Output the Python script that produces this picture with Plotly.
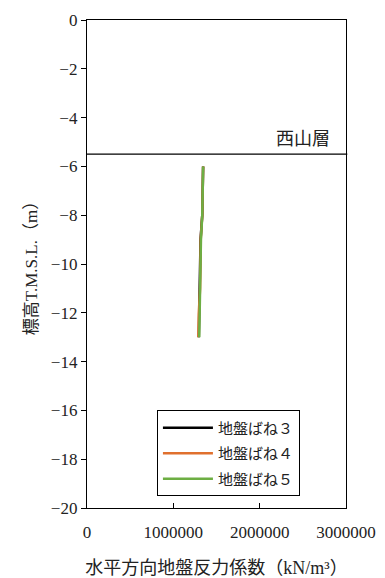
import plotly.graph_objects as go

# ---- data ----
depth = [-6, -7, -8, -9, -10, -11, -12, -13]
k_spring3 = [1345000, 1340000, 1335000, 1315000, 1312000, 1310000, 1300000, 1295000]
k_spring4 = [1345000, 1340000, 1335000, 1317000, 1314000, 1310000, 1295000, 1290000]
k_spring5 = [1345000, 1340000, 1335000, 1320000, 1317000, 1315000, 1305000, 1300000]
series_names = ["地盤ばね３", "地盤ばね４", "地盤ばね５"]
series_colors = ["#000000", "#E0702E", "#6DAE43"]
layer_top = -5.5
layer_name = "西山層"
y_ticks = [0, -2, -4, -6, -8, -10, -12, -14, -16, -18, -20]
x_ticks = [0, 1000000, 2000000, 3000000]

FONT = "Liberation Serif, Noto Sans CJK JP, serif"

fig = go.Figure()
for i, (name, vals, col) in enumerate(zip(series_names, [k_spring3, k_spring4, k_spring5], series_colors)):
    fig.add_trace(go.Scatter(x=vals, y=depth, mode="lines", name=name,
                             legendgroup=f"g{i}",
                             line=dict(color=col, width=2.5)))

fig.add_shape(type="line", xref="paper", yref="y", x0=0, x1=1.005,
              y0=layer_top, y1=layer_top, line=dict(color="black", width=1.3))
fig.add_annotation(text=layer_name, xref="paper", yref="y", x=0.946, y=layer_top,
                   xanchor="right", yanchor="bottom", yshift=3, showarrow=False,
                   font=dict(family=FONT, size=18, color="#222"))

fig.update_layout(
    width=385, height=578,
    margin=dict(l=87, r=39, t=20, b=70, autoexpand=False),
    paper_bgcolor="white", plot_bgcolor="white",
    font=dict(family=FONT, size=17, color="#222"),
    showlegend=True,
    legend=dict(x=0.27, y=0.2, xanchor="left", yanchor="top",
                bgcolor="white", bordercolor="black", borderwidth=1,
                font=dict(family=FONT, size=15, color="#222"),
                itemwidth=50, tracegroupgap=3),
    xaxis=dict(range=[0, 3000000], tickvals=x_ticks, tickformat="d",
               ticks="inside", ticklen=5, tickcolor="black",
               ticklabelstandoff=8,
               showline=True, linecolor="black", linewidth=1.3, mirror=True,
               showgrid=False, zeroline=False,
               title=dict(text="水平方向地盤反力係数（kN/m³）", standoff=22,
                          font=dict(family=FONT, size=18, color="#222"))),
    yaxis=dict(range=[-20, 0], tickvals=y_ticks,
               ticks="outside", ticklen=5, tickcolor="black",
               showline=True, linecolor="black", linewidth=1.3, mirror=True,
               showgrid=False, zeroline=False,
               title=dict(text="標高T.M.S.L.（m）", standoff=8,
                          font=dict(family=FONT, size=17, color="#222"))),
)

fig.write_html("out.html", config={"displayModeBar": False},
               post_script="document.body.style.margin='0';document.body.style.overflow='hidden';")
